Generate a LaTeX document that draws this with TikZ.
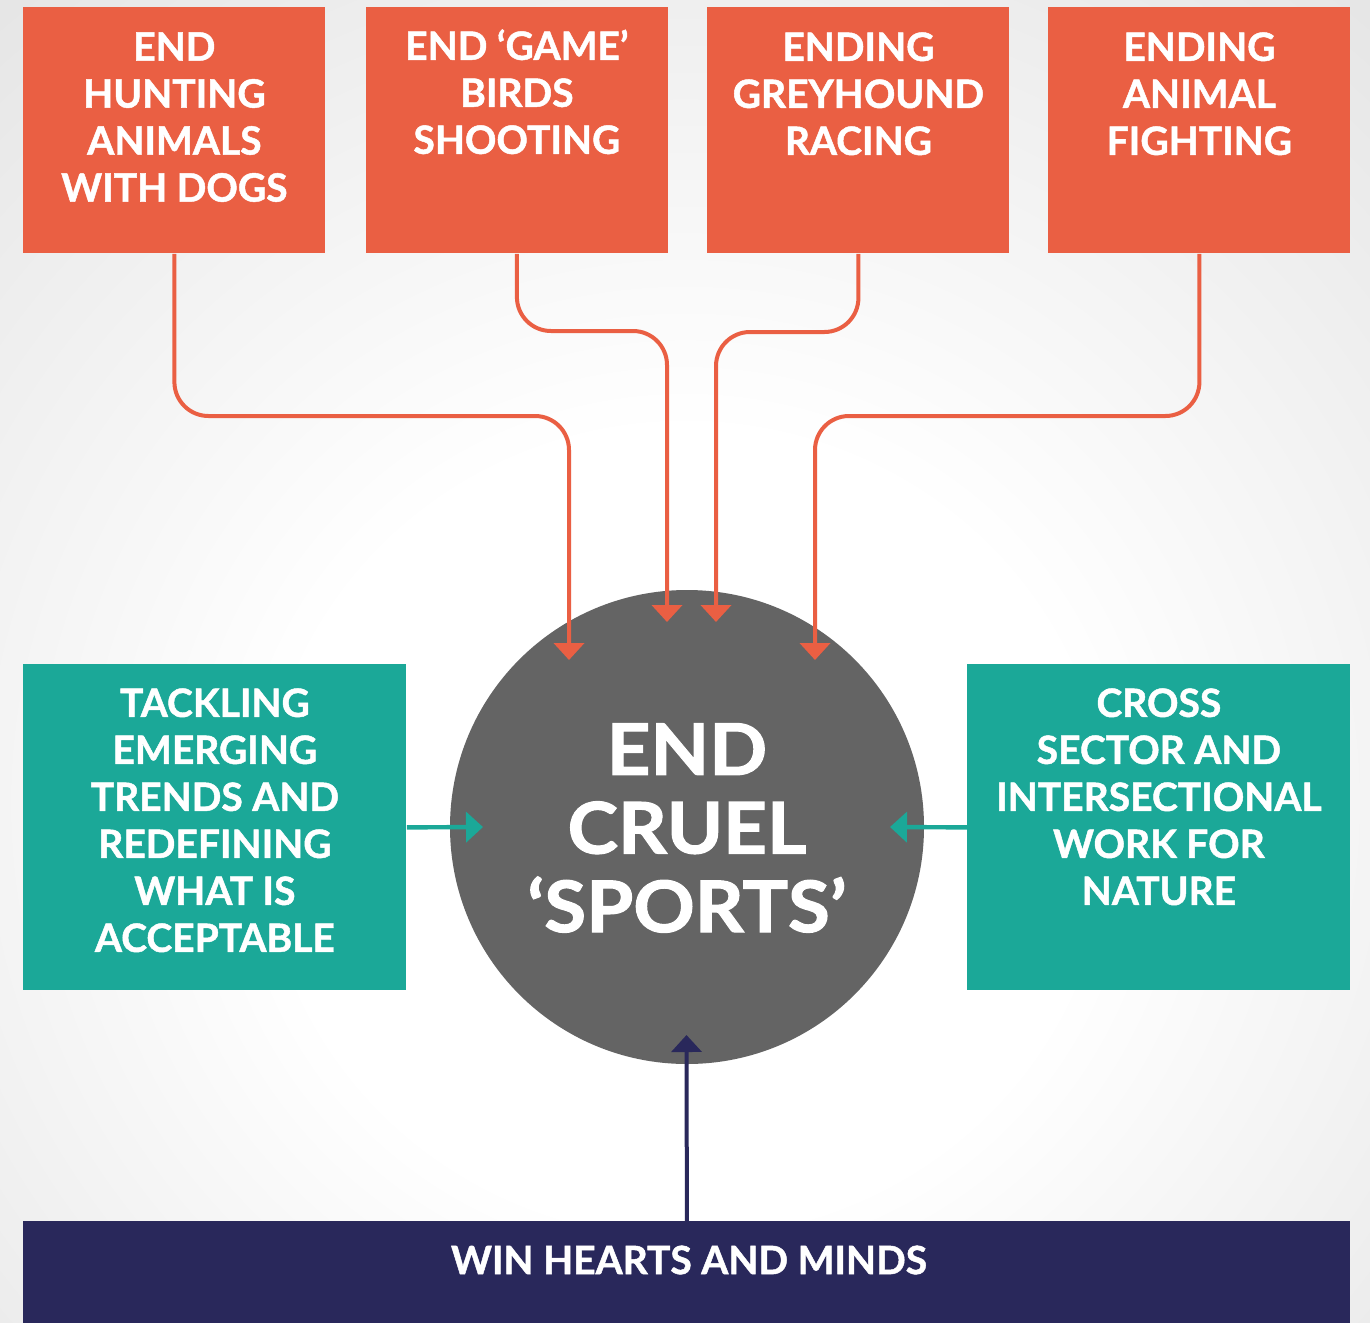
\documentclass[tikz,border=0pt]{standalone}
\usepackage{fontspec}
\setmainfont{Lato}[BoldFeatures={FakeBold=1.2}]
\newfontfamily\circfont{Lato}[BoldFeatures={FakeBold=1.5,FakeStretch=1.07}]
\usetikzlibrary{arrows.meta}
\definecolor{corange}{HTML}{EA5F43}
\definecolor{cteal}{HTML}{1BA898}
\definecolor{cnavy}{HTML}{29285B}
\definecolor{cgray}{HTML}{646464}
\pgfdeclareradialshading{bgshade}{\pgfpoint{0bp}{-8bp}}{color(0bp)=(white); color(15bp)=(white); color(50bp)=(black!15); color(75bp)=(black!20)}
\tikzset{
  obox/.style={fill=corange, draw=none, minimum width=151pt, minimum height=123pt, inner sep=0, anchor=north west},
  tbox/.style={fill=cteal, draw=none, minimum width=191.5pt, minimum height=163pt, inner sep=0, anchor=north west},
  nbox/.style={fill=cnavy, draw=none, minimum width=663.5pt, minimum height=55pt, inner sep=0, anchor=north west},
  lbl/.style={text=white, align=center, inner sep=0, anchor=north, font=\bfseries\fontsize{19.5}{23.5}\selectfont},
  clbl/.style={text=white, align=center, inner sep=0, anchor=north, font=\circfont\bfseries\fontsize{35.6}{39.3}\selectfont},
  oline/.style={draw=corange, line width=2pt, rounded corners=17pt, -{Triangle[width=15pt,length=8.5pt]}},
  tline/.style={draw=cteal, line width=2.2pt, -{Triangle[width=15pt,length=8.5pt]}},
  nline/.style={draw=cnavy, line width=2pt, -{Triangle[width=15pt,length=8.5pt]}},
}
\begin{document}
\begin{tikzpicture}[x=0.5pt,y=-0.5pt]
\useasboundingbox (0,0) rectangle (1370,1322);
\shade[shading=bgshade] (0,0) rectangle (1370,1322);

% top boxes
\node[obox] (b1) at (23,7) {};
\node[obox] (b2) at (365.5,7) {};
\node[obox] (b3) at (707,7) {};
\node[obox] (b4) at (1048,7) {};
\node[lbl] (l1) at (b1.north |- 0,32) {END\\HUNTING\\ANIMALS\\WITH DOGS};
\node[lbl] (l2) at (b2.north |- 0,29) {END ‘GAME’\\BIRDS\\SHOOTING};
\node[lbl] (l3) at (b3.north |- 0,32) {ENDING\\GREYHOUND\\RACING};
\node[lbl] (l4) at (b4.north |- 0,32) {ENDING\\ANIMAL\\FIGHTING};

% circle
\node[circle, fill=cgray, minimum size=237pt, inner sep=0] (c) at (687,827) {};
\node[clbl] (cl) at (687,723) {END\\CRUEL\\‘SPORTS’};

% side boxes
\node[tbox] (tl) at (23,664) {};
\node[tbox] (tr) at (967,664) {};
\node[lbl] (tll) at (tl.north |- 0,688) {TACKLING\\EMERGING\\TRENDS AND\\REDEFINING\\WHAT IS\\ACCEPTABLE};
\node[lbl] (trl) at (tr.north |- 0,688) {CROSS\\SECTOR AND\\INTERSECTIONAL\\WORK FOR\\NATURE};

% bottom bar
\node[nbox] (nb) at (23,1221) {};
\node[lbl, anchor=center] (nbl) at (689,1260) {WIN HEARTS AND MINDS};

% arrow end points
\coordinate (e1) at (569,660);
\coordinate (e2) at (667,622);
\coordinate (e3) at (716,622);
\coordinate (e4) at (815,660);
\coordinate (eL) at (483,827);
\coordinate (eR) at (890,827);
\coordinate (eB) at (686.5,1035);

% connectors
\draw[oline] (b1.south) -- (b1.south |- 0,416) -- (e1 |- 0,416) -- (e1);
\draw[oline] (b2.south) -- (b2.south |- 0,331) -- (e2 |- 0,331) -- (e2);
\draw[oline] (b3.south) -- (b3.south |- 0,332) -- (e3 |- 0,332) -- (e3);
\draw[oline] (b4.south) -- (b4.south |- 0,416) -- (e4 |- 0,416) -- (e4);
\draw[tline] (tl.east) -- (eL);
\draw[tline] (tr.west) -- (eR);
\draw[nline] (nb.north) -- (eB);
\end{tikzpicture}
\end{document}
